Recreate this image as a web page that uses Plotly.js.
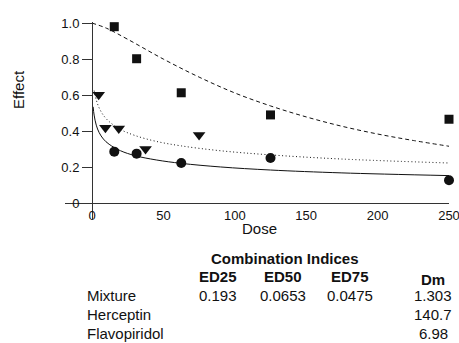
<!DOCTYPE html>
<html>
<head>
<meta charset="utf-8">
<script src="https://cdn.plot.ly/plotly-3.0.1.min.js"></script>
<style>html,body{margin:0;padding:0;background:#fff;}#chart{width:459px;height:343px;}</style>
</head>
<body>
<div id="chart"></div>
<script>
// Observed data points
const herceptinDose = [15.6, 31.25, 62.5, 125, 250];
const herceptinEffect = [0.98, 0.802, 0.613, 0.49, 0.466];
const flavoDose = [4.7, 9.4, 18.75, 37.5, 75];
const flavoEffect = [0.602, 0.419, 0.415, 0.301, 0.379];
const mixtureDose = [15.6, 31.25, 62.5, 125, 250];
const mixtureEffect = [0.286, 0.275, 0.223, 0.251, 0.127];

// Fitted curves
const herceptinCurveDose = [0, 10, 25, 50, 75, 100, 125, 150, 175, 200, 225, 250];
const herceptinCurveEffect = [1.0, 0.972, 0.91, 0.80, 0.70, 0.612, 0.54, 0.479, 0.427, 0.384, 0.348, 0.316];
const flavoCurveDose = [1.5, 3, 5, 8, 12, 20, 30, 45, 62.5, 90, 125, 175, 250];
const flavoCurveEffect = [0.625, 0.573, 0.529, 0.488, 0.453, 0.409, 0.376, 0.343, 0.318, 0.291, 0.268, 0.245, 0.223];
const mixtureCurveDose = [0.8, 1.5, 3, 5, 8, 12, 20, 30, 45, 62.5, 90, 125, 175, 250];
const mixtureCurveEffect = [0.535, 0.489, 0.433, 0.392, 0.356, 0.327, 0.291, 0.264, 0.240, 0.221, 0.201, 0.184, 0.168, 0.153];

// Axis ticks
const yTickVals = [0, 0.2, 0.4, 0.6, 0.8, 1.0];
const yTickText = ['0', '0.2', '0.4', '0.6', '0.8', '1.0'];
const xTickVals = [0, 50, 100, 150, 200, 250];

// Combination index table
const tableTitle = 'Combination Indices';
const colHeaders = ['ED25', 'ED50', 'ED75', 'Dm'];
const rowLabels = ['Mixture', 'Herceptin', 'Flavopiridol'];
const ed25 = ['0.193', '', ''];
const ed50 = ['0.0653', '', ''];
const ed75 = ['0.0475', '', ''];
const dm = ['1.303', '140.7', '6.98'];

const W = 459, H = 343;
const M = {l: 65, r: 10, t: 22, b: 124};
const xRange = [-18.9, 250];
const yRange = [-0.088, 1.006];
const px = x => (x - M.l) / (W - M.l - M.r);
const py = y => (H - M.b - y) / (H - M.t - M.b);

const FONT = 'Liberation Sans, Arial, sans-serif';
const INK = '#111';

const traces = [
  {x: herceptinCurveDose, y: herceptinCurveEffect, mode: 'lines', line: {color: INK, width: 1, dash: '4px,3px', shape: 'spline'}, hoverinfo: 'skip'},
  {x: flavoCurveDose, y: flavoCurveEffect, mode: 'lines', line: {color: INK, width: 1, dash: '1px,2.5px', shape: 'spline'}, hoverinfo: 'skip'},
  {x: mixtureCurveDose, y: mixtureCurveEffect, mode: 'lines', line: {color: INK, width: 1, shape: 'spline'}, hoverinfo: 'skip'},
  {x: herceptinDose, y: herceptinEffect, mode: 'markers', cliponaxis: false, marker: {symbol: 'square', size: 9, color: INK}},
  {x: flavoDose, y: flavoEffect, mode: 'markers', cliponaxis: false, marker: {symbol: 'triangle-down', size: 11, color: INK}},
  {x: mixtureDose, y: mixtureEffect, mode: 'markers', cliponaxis: false, marker: {symbol: 'circle', size: 10, color: INK}}
];

const annotations = [];
function txt(text, x, y, size, bold, xanchor) {
  annotations.push({text: bold ? '<b>' + text + '</b>' : text, xref: 'paper', yref: 'paper',
    x: px(x), y: py(y), xanchor: xanchor || 'center', yanchor: 'middle', showarrow: false,
    font: {family: FONT, size: size, color: INK}});
}
txt('Effect', 18, 90, 15, false);
annotations[annotations.length - 1].textangle = -90;
txt('Dose', 259, 228, 15, false);
txt(tableTitle, 285, 258, 15, true);
const colX = [218, 283, 350, 433];
const headerY = [276, 276, 276, 279];
colHeaders.forEach((h, i) => txt(h, colX[i], headerY[i], 15, true));
const rowY = [295, 314, 333];
rowLabels.forEach((r, i) => {
  txt(r, 85, rowY[i], 15, false, 'left');
  [ed25, ed50, ed75, dm].forEach((col, j) => { if (col[i]) txt(col[i], colX[j], rowY[i], 15, false); });
});

const layout = {
  width: W, height: H,
  margin: M,
  paper_bgcolor: '#fff', plot_bgcolor: '#fff',
  showlegend: false,
  font: {family: FONT, size: 13, color: INK},
  xaxis: {
    range: xRange, tickvals: xTickVals, ticks: '', showgrid: false, zeroline: false,
    showline: true, linecolor: '#333', linewidth: 1, ticklabeloverflow: 'allow',
    anchor: 'free', position: (0 - yRange[0]) / (yRange[1] - yRange[0]),
    tickfont: {family: FONT, size: 13, color: INK}
  },
  yaxis: {
    range: yRange, tickvals: yTickVals, ticktext: yTickText, ticks: 'outside', ticklen: 10,
    tickcolor: '#333', tickwidth: 1, showgrid: false, zeroline: false,
    showline: true, linecolor: '#333', linewidth: 1,
    anchor: 'free', position: (0 - xRange[0]) / (xRange[1] - xRange[0]),
    tickfont: {family: FONT, size: 13, color: INK}
  },
  annotations: annotations
};

Plotly.newPlot('chart', traces, layout, {staticPlot: true, displayModeBar: false});
</script>
</body>
</html>
